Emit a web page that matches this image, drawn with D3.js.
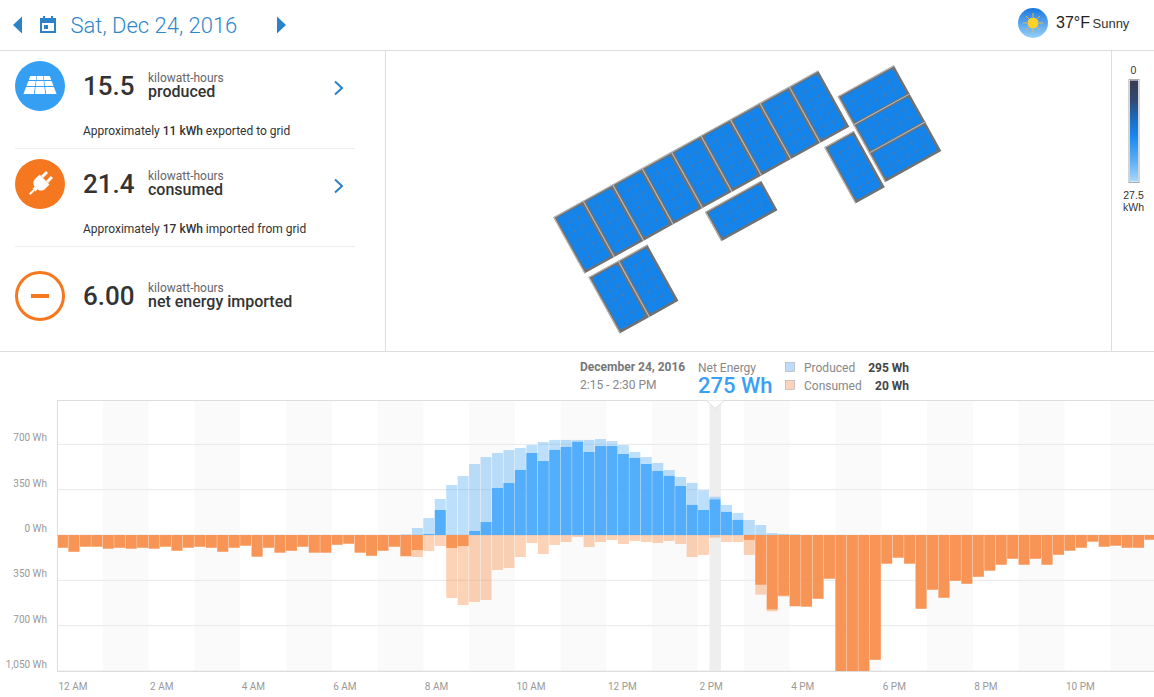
<!DOCTYPE html>
<html>
<head>
<meta charset="utf-8">
<style>
  html, body { margin:0; padding:0; background:#fff; overflow:hidden; }
  text { font-family:Roboto, sans-serif; }
  .helv { font-family:"Liberation Sans", Arial, sans-serif; }
  .axis .domain { display:none; }
  .axis line { stroke:#e8e8e8; }
  .axis text { font-family:Roboto, sans-serif; font-size:10px; fill:#999; }
</style>
</head>
<body>
<div id="chart-area"></div>
<script src="https://cdnjs.cloudflare.com/ajax/libs/d3/7.8.5/d3.min.js"></script>
<script>
// 15 minute slots, Wh
var produced = [0,0,0,0,0,0,0,0,0,0,0,0,0,0,0,0,0,0,0,0,0,0,0,0,0,0,0,0,0,0,
    5,54,131,278,386,456,548,602,633,656,672,695,718,734,734,734,734,741,726,695,
    641,602,556,502,448,402,347,295,232,170,116,77,15,8,5,
    0,0,0,0,0,0,0,0,0,0,0,0,0,0,0,0,0,0,0,0,0,0,0,0,0,0,0,0,0,0,0];
var consumed = [98,129,90,90,105,98,105,98,105,90,121,98,90,98,129,98,82,167,98,136,
    121,90,136,136,75,67,136,160,121,90,
    167,170,124,85,486,541,517,502,270,255,170,62,147,77,54,15,93,54,39,70,
    46,54,62,46,70,170,154,20,54,54,154,461,589,476,553,
    553,492,337,1050,1050,1050,963,221,175,221,569,422,484,353,376,322,275,229,183,229,183,229,
    152,121,98,51,90,82,98,98,36];

var yTicks = [700, 350, 0, -350, -700, -1050];
var xTicks = [0, 8, 16, 24, 32, 40, 48, 56, 64, 72, 80, 88];
var xTickLabels = ["12 AM","2 AM","4 AM","6 AM","8 AM","10 AM","12 PM","2 PM","4 PM","6 PM","8 PM","10 PM"];
var selected = 57;

// solar array layout, in module widths along / across the roof
var panelCol = [0,1,2,3,4,5,6,7,8, 0.05,1.05, 4.02, 8.05, 9.13,9.13,9.13];
var panelRow = [0,0,0,0,0,0,0,0,0, 1.08,1.08, 1.07, 1.09, 0.5,1,1.5];
var panelWide = [0,0,0,0,0,0,0,0,0, 0,0, 1, 0, 1,1,1];

var blue = "#2b82c9", chartBlue = "#349ff5", chartOrange = "#f5771f";

var svg = d3.select("#chart-area").append("svg")
    .attr("width", 1154)
    .attr("height", 697)
    .style("display", "block");

var defs = svg.append("defs");

var scaleGrad = defs.append("linearGradient").attr("id", "scale-grad")
    .attr("x1", 0).attr("x2", 0).attr("y1", 0).attr("y2", 1);
[[0,"#3a3d52"],[0.2,"#2f4a75"],[0.38,"#1b6cc0"],[0.55,"#1888f0"],[0.8,"#5cb0f5"],[1,"#a5d6fb"]].forEach(function(s) {
    scaleGrad.append("stop").attr("offset", s[0]).attr("stop-color", s[1]);
});

var skyGrad = defs.append("linearGradient").attr("id", "sky-grad")
    .attr("x1", 0).attr("x2", 0).attr("y1", 0).attr("y2", 1);
[[0,"#1878e0"],[1,"#95d0f8"]].forEach(function(s) {
    skyGrad.append("stop").attr("offset", s[0]).attr("stop-color", s[1]);
});

function hline(y, x1, x2, color) {
    svg.append("line").attr("x1", x1).attr("x2", x2).attr("y1", y).attr("y2", y).attr("stroke", color);
}
function vline(x, y1, y2, color) {
    svg.append("line").attr("x1", x).attr("x2", x).attr("y1", y1).attr("y2", y2).attr("stroke", color);
}
function label(x, y, str, size, color, weight, anchor) {
    return svg.append("text")
        .attr("x", x).attr("y", y)
        .attr("font-size", size)
        .attr("fill", color)
        .attr("font-weight", weight || 400)
        .attr("text-anchor", anchor || "start")
        .text(str);
}

// panel frame
hline(50.5, 0, 1154, "#ddd");
hline(351.5, 0, 1154, "#ddd");
vline(385.5, 50, 351, "#ddd");
vline(1111.5, 50, 351, "#ddd");
hline(148.5, 15, 355, "#eee");
hline(246.5, 15, 355, "#eee");

// header
svg.append("path").attr("d", "M22,16.5L13,25L22,33.5Z").attr("fill", blue);
svg.append("path").attr("d", "M277,16.5L286,25L277,33.5Z").attr("fill", blue);
var cal = svg.append("g").attr("fill", blue);
cal.append("path").attr("fill-rule", "evenodd")
    .attr("d", "M40,18H56V33H40ZM42,23V31H54V23Z");
cal.append("rect").attr("x", 43).attr("y", 16).attr("width", 2).attr("height", 3);
cal.append("rect").attr("x", 51).attr("y", 16).attr("width", 2).attr("height", 3);
cal.append("rect").attr("x", 44).attr("y", 25).attr("width", 4).attr("height", 4);
label(70.5, 32.5, "Sat, Dec 24, 2016", 22, "#2f86c8", 300);

// weather
svg.append("circle").attr("cx", 1033).attr("cy", 23).attr("r", 15).attr("fill", "url(#sky-grad)");
d3.range(8).forEach(function(i) {
    var a = i * Math.PI / 4;
    svg.append("line")
        .attr("x1", 1033 + 6 * Math.cos(a)).attr("y1", 23 + 6 * Math.sin(a))
        .attr("x2", 1033 + 10 * Math.cos(a)).attr("y2", 23 + 10 * Math.sin(a))
        .attr("stroke", "#e9b25a").attr("stroke-width", 1);
});
svg.append("circle").attr("cx", 1033).attr("cy", 23).attr("r", 5.5).attr("fill", "#fcd12a");
label(1056, 28, "37°F", 16, "#222").attr("class", "helv");
label(1092.5, 28, "Sunny", 13, "#333").attr("class", "helv");

// left column: produced
svg.append("circle").attr("cx", 40).attr("cy", 86).attr("r", 25).attr("fill", "#359ff4");
var cellW = [0, 1, 2], cellH = [[76,80],[81,86],[87,94]], topX = 30, topW = 20, botX = 23, botW = 34;
function edgeX(y, t) {
    var f = (y - 76) / 18;
    return (topX + (botX - topX) * f) + (topW + (botW - topW) * f) * t;
}
cellH.forEach(function(r) {
    cellW.forEach(function(c) {
        var a = (c + 0.04) / 3, b = (c + 0.96) / 3;
        svg.append("polygon").attr("fill", "#fff")
            .attr("points", [[edgeX(r[0], a), r[0]], [edgeX(r[0], b), r[0]], [edgeX(r[1], b), r[1]], [edgeX(r[1], a), r[1]]].join(" "));
    });
});

// left column: consumed, plug icon
svg.append("circle").attr("cx", 40).attr("cy", 184).attr("r", 25).attr("fill", chartOrange);
var plug = svg.append("g").attr("transform", "translate(41,183) rotate(45)").attr("fill", "#fff");
plug.append("path").attr("d", "M-7,-5H7V1C7,5 4,7 2,7V10H-2V7C-4,7 -7,5 -7,1Z");
plug.append("rect").attr("x", -5).attr("y", -12).attr("width", 3).attr("height", 7);
plug.append("rect").attr("x", 2).attr("y", -12).attr("width", 3).attr("height", 7);
plug.append("rect").attr("x", -1).attr("y", 10).attr("width", 2).attr("height", 6);

// left column: net
svg.append("circle").attr("cx", 40).attr("cy", 296).attr("r", 23.5)
    .attr("fill", "#fff").attr("stroke", chartOrange).attr("stroke-width", 3);
svg.append("rect").attr("x", 31).attr("y", 294).attr("width", 18).attr("height", 4).attr("fill", chartOrange);

var rows = [
    { num:"15.5", word:"produced", y:95, chevron:88, amount:"11 kWh", tail:" exported to grid", noteY:135 },
    { num:"21.4", word:"consumed", y:193, chevron:186, amount:"17 kWh", tail:" imported from grid", noteY:233 },
    { num:"6.00", word:"net energy imported", y:305 }
];
rows.forEach(function(d) {
    label(83, d.y, d.num, 26, "#333", 500);
    label(148, d.y - 13, "kilowatt-hours", 12, "#666");
    label(148, d.y + 2, d.word, 16, "#333", 500);
    if (d.chevron) {
        svg.append("path")
            .attr("d", "M335," + (d.chevron - 6.5) + "L342," + d.chevron + "L335," + (d.chevron + 6.5))
            .attr("fill", "none").attr("stroke", blue).attr("stroke-width", 2);
        var note = label(83, d.noteY, "Approximately ", 12, "#333");
        note.append("tspan").attr("font-weight", 500).text(d.amount);
        note.append("tspan").text(d.tail);
    }
});

// solar array
var modW = 33.65, modH = 64.3;
var roof = svg.append("g").attr("transform", "translate(553.3,217.3) rotate(-29)");
panelCol.forEach(function(c, i) {
    var w = panelWide[i] ? modH : modW,
        h = panelWide[i] ? modW : modH;
    var p = roof.append("g").attr("transform", "translate(" + (c * modW) + "," + (panelRow[i] * modH) + ")");
    p.append("rect").attr("width", w).attr("height", h).attr("fill", "#6f7275");
    p.append("path").attr("d", "M0.5," + h + "V0.5H" + w).attr("fill", "none").attr("stroke", "#b4bcc2");
    p.append("rect").attr("x", 2.5).attr("y", 2.5).attr("width", w - 5).attr("height", h - 5).attr("rx", 3.5).attr("fill", "#1384ec");
    var nx = panelWide[i] ? 6 : 3, ny = panelWide[i] ? 3 : 6;
    d3.range(1, nx).forEach(function(a) {
        var px = 2.5 + a * (w - 5) / nx;
        p.append("line").attr("x1", px).attr("x2", px).attr("y1", 3).attr("y2", h - 3).attr("stroke", "#3a79b8").attr("stroke-width", 0.5);
        d3.range(1, ny).forEach(function(b) {
            p.append("circle").attr("cx", px).attr("cy", 2.5 + b * (h - 5) / ny).attr("r", 0.9).attr("fill", "#6d7a90");
        });
    });
    d3.range(1, ny).forEach(function(b) {
        var py = 2.5 + b * (h - 5) / ny;
        p.append("line").attr("y1", py).attr("y2", py).attr("x1", 3).attr("x2", w - 3).attr("stroke", "#3a79b8").attr("stroke-width", 0.5);
    });
});

// colour scale
svg.append("rect").attr("x", 1129).attr("y", 79.5).attr("width", 10).attr("height", 103)
    .attr("fill", "#fff").attr("stroke", "#aaa");
svg.append("rect").attr("x", 1130).attr("y", 80.5).attr("width", 8).attr("height", 101)
    .attr("fill", "url(#scale-grad)");
label(1133.5, 74, "0", 10.5, "#333", 400, "middle").attr("class", "helv");
label(1133.5, 199, "27.5", 10.5, "#333", 400, "middle").attr("class", "helv");
label(1133.5, 211, "kWh", 10.5, "#333", 400, "middle").attr("class", "helv");

// chart
var x = d3.scaleLinear().domain([0, 96]).range([57, 1156]);
var y = d3.scaleLinear().domain([-1050, 1050]).range([671, 399]);
var plotTop = 400.5, plotBottom = 671.5;

var g = svg.append("g");

g.selectAll(".band")
    .data(d3.range(4, 96, 8))
    .enter().append("rect")
      .attr("class", "band")
      .attr("x", function(d) { return x(d); })
      .attr("y", plotTop)
      .attr("width", x(4) - x(0))
      .attr("height", plotBottom - plotTop)
      .attr("fill", "#fafafa");

var yAxisCall = d3.axisLeft(y)
    .tickValues(yTicks)
    .tickSize(-(1154 - 57))
    .tickPadding(10)
    .offset(0)
    .tickFormat(function(d) { return d3.format(",")(Math.abs(d)) + " Wh"; });

g.append("g")
    .attr("class", "axis")
    .attr("transform", "translate(57,0)")
    .call(yAxisCall)
    .selectAll("text")
      .attr("dy", "-0.3em");

// selected slot
g.append("rect")
    .attr("x", x(selected))
    .attr("y", plotTop)
    .attr("width", x(selected + 1) - x(selected))
    .attr("height", plotBottom - plotTop)
    .attr("fill", "#eee");

function barLayer(values, color, opacity) {
    g.append("g").selectAll("rect")
        .data(values)
        .enter().append("rect")
          .attr("x", function(d, i) { return x(i); })
          .attr("y", function(d) { return Math.min(y(d), y(0)); })
          .attr("width", x(1) - x(0) - 0.5)
          .attr("height", function(d) { return Math.abs(y(d) - y(0)); })
          .attr("fill", color)
          .attr("fill-opacity", opacity);
}

var net = produced.map(function(d, i) { return d - consumed[i]; });

barLayer(produced, chartBlue, 0.33);
barLayer(consumed.map(function(d) { return -d; }), chartOrange, 0.32);
barLayer(net.map(function(d) { return Math.max(d, 0); }), "#4aa9fb", 0.92);
barLayer(net.map(function(d) { return Math.min(d, 0); }), "#f68f4e", 0.92);

// plot border
vline(57.5, plotTop, plotBottom, "#ddd");
hline(plotBottom, 57, 1154, "#ddd");
hline(plotTop, 57, 1154, "#ddd");

// pointer notch into the top border
var notch = x(selected + 0.5);
svg.append("path")
    .attr("d", "M" + (notch - 9) + "," + plotTop + "L" + notch + "," + (plotTop + 8) + "L" + (notch + 9) + "," + plotTop + "Z")
    .attr("fill", "#fff");
svg.append("path")
    .attr("d", "M" + (notch - 9) + "," + plotTop + "L" + notch + "," + (plotTop + 8) + "L" + (notch + 9) + "," + plotTop)
    .attr("fill", "none")
    .attr("stroke", "#ddd");

var xAxisCall = d3.axisBottom(x)
    .tickValues(xTicks)
    .tickSize(0)
    .tickPadding(11)
    .tickFormat(function(d, i) { return xTickLabels[i]; });

g.append("g")
    .attr("class", "axis")
    .attr("transform", "translate(0," + plotBottom + ")")
    .call(xAxisCall)
    .selectAll("text")
      .attr("text-anchor", "start")
      .attr("dx", "1");

// readout for the selected slot
label(580, 371, "December 24, 2016", 12, "#777", 700);
label(580, 389, "2:15 - 2:30 PM", 12, "#888");
label(698, 372, "Net Energy", 12, "#888");
label(698, 393, net[selected] + " Wh", 22, "#3aa0f5", 500);
[[367, "Produced", produced[selected], "#bddcfa"], [385, "Consumed", consumed[selected], "#fdd3bc"]].forEach(function(d) {
    svg.append("rect").attr("x", 785.5).attr("y", d[0] - 4.5).attr("width", 9).attr("height", 9)
        .attr("fill", d[3]).attr("stroke", "#aaa").attr("stroke-width", 0.6);
    label(804, d[0] + 5, d[1], 12, "#888");
    label(909, d[0] + 5, d[2] + " Wh", 12, "#444", 700, "end");
});
</script>
</body>
</html>
